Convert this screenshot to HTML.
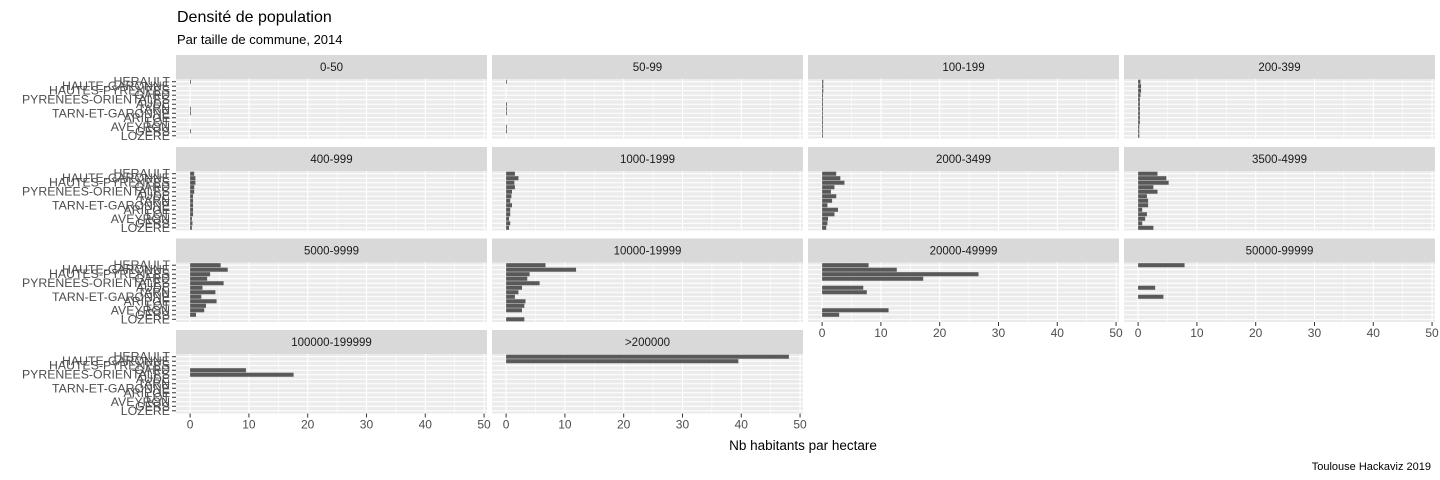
<!DOCTYPE html>
<html><head><meta charset="utf-8"><style>
body{margin:0;background:#fff;}
svg{display:block;font-family:"Liberation Sans",Arial,sans-serif;}
</style></head><body>
<svg id="c" width="1440" height="480" viewBox="0 0 1440 480">
<text x="177" y="22" font-size="16" fill="#000">Densité de population</text>
<text x="177" y="44" font-size="13" fill="#000">Par taille de commune, 2014</text>
<text x="803" y="450" font-size="13.5" fill="#000" text-anchor="middle">Nb habitants par hectare</text>
<text x="1431" y="470" font-size="11" fill="#000" text-anchor="end">Toulouse Hackaviz 2019</text>
</svg>
<script>
const departments = ["HERAULT","HAUTE-GARONNE","HAUTES-PYRENEES","GARD","PYRENEES-ORIENTALES","AUDE","TARN","TARN-ET-GARONNE","ARIEGE","LOT","AVEYRON","GERS","LOZERE"];
const facets = ["0-50","50-99","100-199","200-399","400-999","1000-1999","2000-3499","3500-4999","5000-9999","10000-19999","20000-49999","50000-99999","100000-199999",">200000"];
const v0_50 = [0.1,0,0,0,0,0,0.1,0.1,0,0,0,0.1,0];
const v50_99 = [0.1,0,0,0,0,0.1,0.1,0.1,0,0,0.1,0.1,0];
const v100_199 = [0.2,0.2,0.2,0.15,0.15,0.15,0.15,0.1,0.15,0.15,0.1,0.1,0.1];
const v200_399 = [0.4,0.5,0.5,0.4,0.3,0.3,0.3,0.3,0.3,0.3,0.2,0.2,0.2];
const v400_999 = [0.7,0.9,0.9,0.7,0.7,0.5,0.5,0.5,0.5,0.5,0.3,0.4,0.3];
const v1000_1999 = [1.5,2.1,1.4,1.5,1.0,0.9,0.7,1.0,0.7,0.7,0.5,0.7,0.5];
const v2000_3499 = [2.4,3.1,3.8,2.1,1.5,2.4,1.7,0.9,2.7,2.1,1.0,0.9,0.7];
const v3500_4999 = [3.3,4.8,5.2,2.6,3.3,1.5,1.7,1.7,0.7,1.5,1.2,0.7,2.6];
const v5000_9999 = [5.2,6.4,3.4,2.9,5.7,2.1,4.3,1.9,4.5,2.7,2.4,1.0,0];
const v10000_19999 = [6.7,11.9,4.0,3.6,5.7,2.7,2.1,1.5,3.3,3.1,2.7,0,3.1];
const v20000_49999 = [7.9,12.7,26.6,17.2,0,7.0,7.6,0,0,0,11.3,2.9,0];
const v50000_99999 = [7.9,0,0,0,0,2.9,0,4.3,0,0,0,0,0];
const v100000_199999 = [0,0,0,9.5,17.6,0,0,0,0,0,0,0,0];
const v200000 = [48.1,39.5,0,0,0,0,0,0,0,0,0,0,0];
const xTicks = [0,10,20,30,40,50];
const xMinor = [5,15,25,35,45];
const values = [v0_50,v50_99,v100_199,v200_399,v400_999,v1000_1999,v2000_3499,v3500_4999,v5000_9999,v10000_19999,v20000_49999,v50000_99999,v100000_199999,v200000];

const NS="http://www.w3.org/2000/svg";
const svg=document.getElementById('c');
const colX=[176,492,808,1124], rowY=[79,171,262.5,354], PW=311, PH=59.5, SH=24;
const XMIN=-2.4, XMAX=50.5;
function mk(t,a){const e=document.createElementNS(NS,t);for(const k in a)e.setAttribute(k,a[k]);svg.appendChild(e);return e;}
facets.forEach((f,i)=>{
  const c=i%4, r=Math.floor(i/4), x0=colX[c], y0=rowY[r];
  const xs=v=>x0+(v-XMIN)/(XMAX-XMIN)*PW;
  const band=PH/13.2;
  const ys=k=>y0+(0.6+k)*band;
  const st=mk('rect',{x:x0,y:y0-SH,width:PW,height:SH,fill:'#d9d9d9'});
  
  
  const tt=mk('text',{x:x0+PW/2,y:y0-SH/2+4,'font-size':11.5,'text-anchor':'middle',fill:'#1a1a1a'});
  tt.textContent=f;
  
  
  const bg=mk('rect',{x:x0,y:y0,width:PW,height:PH,fill:'#ebebeb'});
  
  
  xMinor.forEach(v=>mk('line',{x1:xs(v),x2:xs(v),y1:y0,y2:y0+PH,stroke:'#fff','stroke-width':0.55}));
  xTicks.forEach(v=>mk('line',{x1:xs(v),x2:xs(v),y1:y0,y2:y0+PH,stroke:'#fff','stroke-width':1.1}));
  departments.forEach((d,k)=>mk('line',{x1:x0,x2:x0+PW,y1:ys(k),y2:ys(k),stroke:'#fff','stroke-width':1.1}));
  values[i].forEach((v,k)=>{
    if(v<=0)return;
    const b=mk('rect',{x:xs(0),y:ys(k)-band*0.45,width:Math.max(xs(v)-xs(0),0.8),height:band*0.9,fill:'#595959'});
    
    
  });
  if(c===0){
    departments.forEach((d,k)=>{
      mk('line',{x1:x0-4,x2:x0,y1:ys(k),y2:ys(k),stroke:'#333','stroke-width':1});
      const l=mk('text',{x:x0-6,y:ys(k)+4,'font-size':12.3,'text-anchor':'end',fill:'#4d4d4d'});
      l.textContent=d;
      
      
    });
  }
  const bottom = (r===3) || (r===2 && c>=2);
  if(bottom){
    xTicks.forEach(v=>{
      mk('line',{x1:xs(v),x2:xs(v),y1:y0+PH,y2:y0+PH+4,stroke:'#333','stroke-width':1});
      const l=mk('text',{x:xs(v),y:y0+PH+15,'font-size':12,'text-anchor':'middle',fill:'#4d4d4d'});
      l.textContent=v;
      
      
    });
  }
});
</script>
</body></html>
